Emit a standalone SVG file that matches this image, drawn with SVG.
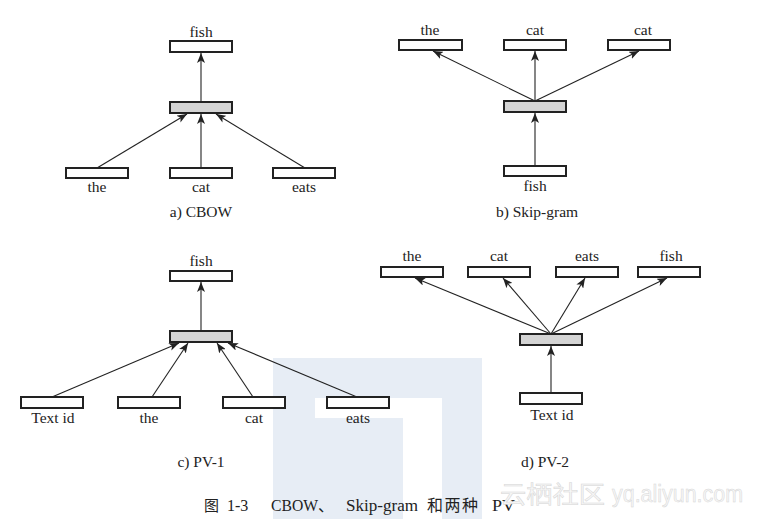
<svg xmlns="http://www.w3.org/2000/svg" width="757" height="519" viewBox="0 0 757 519">
<style>
.bx{fill:#fff;stroke:#222;stroke-width:2}
.hd{fill:#d4d4d4;stroke:#222;stroke-width:2}
.lb{font-family:"Liberation Serif","Times New Roman",serif;font-size:15.5px;fill:#222;text-anchor:middle}
.cn line{stroke:#222;stroke-width:1.1;marker-end:url(#ah)}
.cap{font-family:"Liberation Serif","Times New Roman",serif;font-size:16px;fill:#222}
.cjk{font-family:"Noto Sans CJK SC",sans-serif}
</style>
<defs>
<marker id="ah" markerUnits="userSpaceOnUse" markerWidth="10" markerHeight="8" refX="10" refY="4" orient="auto">
<path d="M0,0 L10,4 L0,8 L2.5,4 z" fill="#222"/>
</marker>
</defs>
<rect width="757" height="519" fill="#fff"/>
<g id="watermark-bg" fill="#e7edf5">
<rect x="273" y="358" width="209" height="161"/>
<rect x="315" y="398" width="127" height="121" fill="#fff"/>
<rect x="315" y="418" width="88" height="101"/>
</g>

<g class="cn" id="connectors">
<line x1="201" y1="102" x2="201" y2="53"/>
<line x1="97" y1="168" x2="187" y2="114"/>
<line x1="201" y1="168" x2="201" y2="114"/>
<line x1="305" y1="168" x2="216" y2="114"/>

<line x1="535" y1="101" x2="433" y2="51"/>
<line x1="535" y1="101" x2="535" y2="51"/>
<line x1="535" y1="101" x2="639" y2="51"/>
<line x1="535" y1="166" x2="535" y2="113"/>

<line x1="201" y1="331" x2="201" y2="282"/>
<line x1="52" y1="397" x2="179" y2="343"/>
<line x1="152" y1="397" x2="188" y2="343"/>
<line x1="253" y1="397" x2="217" y2="343"/>
<line x1="357" y1="397" x2="228" y2="343"/>

<line x1="551" y1="334" x2="415" y2="278"/>
<line x1="551" y1="334" x2="503" y2="278"/>
<line x1="551" y1="334" x2="585" y2="278"/>
<line x1="551" y1="334" x2="667" y2="278"/>
<line x1="551" y1="393" x2="551" y2="346"/>
</g>

<!-- a) CBOW -->
<g id="a-fish"><rect class="bx" x="170" y="41" width="62" height="11"/><text class="lb" x="201" y="37">fish</text></g>
<g id="a-hidden"><rect class="hd" x="170" y="102" width="62" height="11"/></g>
<g id="a-the"><rect class="bx" x="66" y="168" width="62" height="10"/><text class="lb" x="97" y="192">the</text></g>
<g id="a-cat"><rect class="bx" x="170" y="168" width="62" height="10"/><text class="lb" x="201" y="192">cat</text></g>
<g id="a-eats"><rect class="bx" x="273" y="168" width="62" height="10"/><text class="lb" x="304" y="192">eats</text></g>
<text class="lb" x="201" y="217">a) CBOW</text>

<!-- b) Skip-gram -->
<g id="b-the"><rect class="bx" x="399" y="40" width="63" height="10"/><text class="lb" x="430" y="35">the</text></g>
<g id="b-cat"><rect class="bx" x="504" y="40" width="62" height="10"/><text class="lb" x="535" y="35">cat</text></g>
<g id="b-cat2"><rect class="bx" x="608" y="40" width="62" height="10"/><text class="lb" x="643" y="35">cat</text></g>
<g id="b-hidden"><rect class="hd" x="504" y="101" width="62" height="11"/></g>
<g id="b-fish"><rect class="bx" x="504" y="166" width="62" height="10"/><text class="lb" x="535" y="191">fish</text></g>
<text class="lb" x="537" y="217">b) Skip-gram</text>

<!-- c) PV-1 -->
<g id="c-fish"><rect class="bx" x="170" y="271" width="62" height="10"/><text class="lb" x="201" y="266">fish</text></g>
<g id="c-hidden"><rect class="hd" x="170" y="331" width="62" height="11"/></g>
<g id="c-textid"><rect class="bx" x="21" y="397" width="62" height="11"/><text class="lb" x="53" y="423">Text id</text></g>
<g id="c-the"><rect class="bx" x="118" y="397" width="62" height="11"/><text class="lb" x="149" y="423">the</text></g>
<g id="c-cat"><rect class="bx" x="223" y="397" width="62" height="11"/><text class="lb" x="254" y="423">cat</text></g>
<g id="c-eats"><rect class="bx" x="327" y="397" width="62" height="11"/><text class="lb" x="358" y="423">eats</text></g>
<text class="lb" x="201" y="467">c) PV-1</text>

<!-- d) PV-2 -->
<g id="d-the"><rect class="bx" x="381" y="267" width="62" height="10"/><text class="lb" x="412" y="261">the</text></g>
<g id="d-cat"><rect class="bx" x="468" y="267" width="62" height="10"/><text class="lb" x="499" y="261">cat</text></g>
<g id="d-eats"><rect class="bx" x="556" y="267" width="62" height="10"/><text class="lb" x="587" y="261">eats</text></g>
<g id="d-fish"><rect class="bx" x="638" y="267" width="62" height="10"/><text class="lb" x="671" y="261">fish</text></g>
<g id="d-hidden"><rect class="hd" x="520" y="334" width="62" height="11"/></g>
<g id="d-textid"><rect class="bx" x="520" y="393" width="62" height="11"/><text class="lb" x="552" y="420">Text id</text></g>
<text class="lb" x="545" y="467">d) PV-2</text>

<!-- caption -->
<text class="cap" y="511"><tspan class="cjk" x="204" font-size="15px">图</tspan><tspan x="227">1-3</tspan><tspan x="271" textLength="47" lengthAdjust="spacingAndGlyphs">CBOW</tspan><tspan class="cjk" x="318">、</tspan><tspan x="346" textLength="72" lengthAdjust="spacingAndGlyphs">Skip-gram</tspan><tspan class="cjk" x="427" font-size="16px" letter-spacing="1.5">和两种</tspan><tspan x="492" textLength="23" lengthAdjust="spacingAndGlyphs">PV</tspan></text>
<g id="watermark" fill="#f6f6f6" stroke="#d6d6d6" stroke-width="0.5">
<text x="500" y="503" font-family="'Noto Sans CJK SC',sans-serif" font-size="24px" textLength="105" lengthAdjust="spacingAndGlyphs">云栖社区</text>
<text x="612" y="502" font-family="'Liberation Sans',Arial,sans-serif" font-size="23px" textLength="131" lengthAdjust="spacingAndGlyphs">yq.aliyun.com</text>
</g>
</svg>
